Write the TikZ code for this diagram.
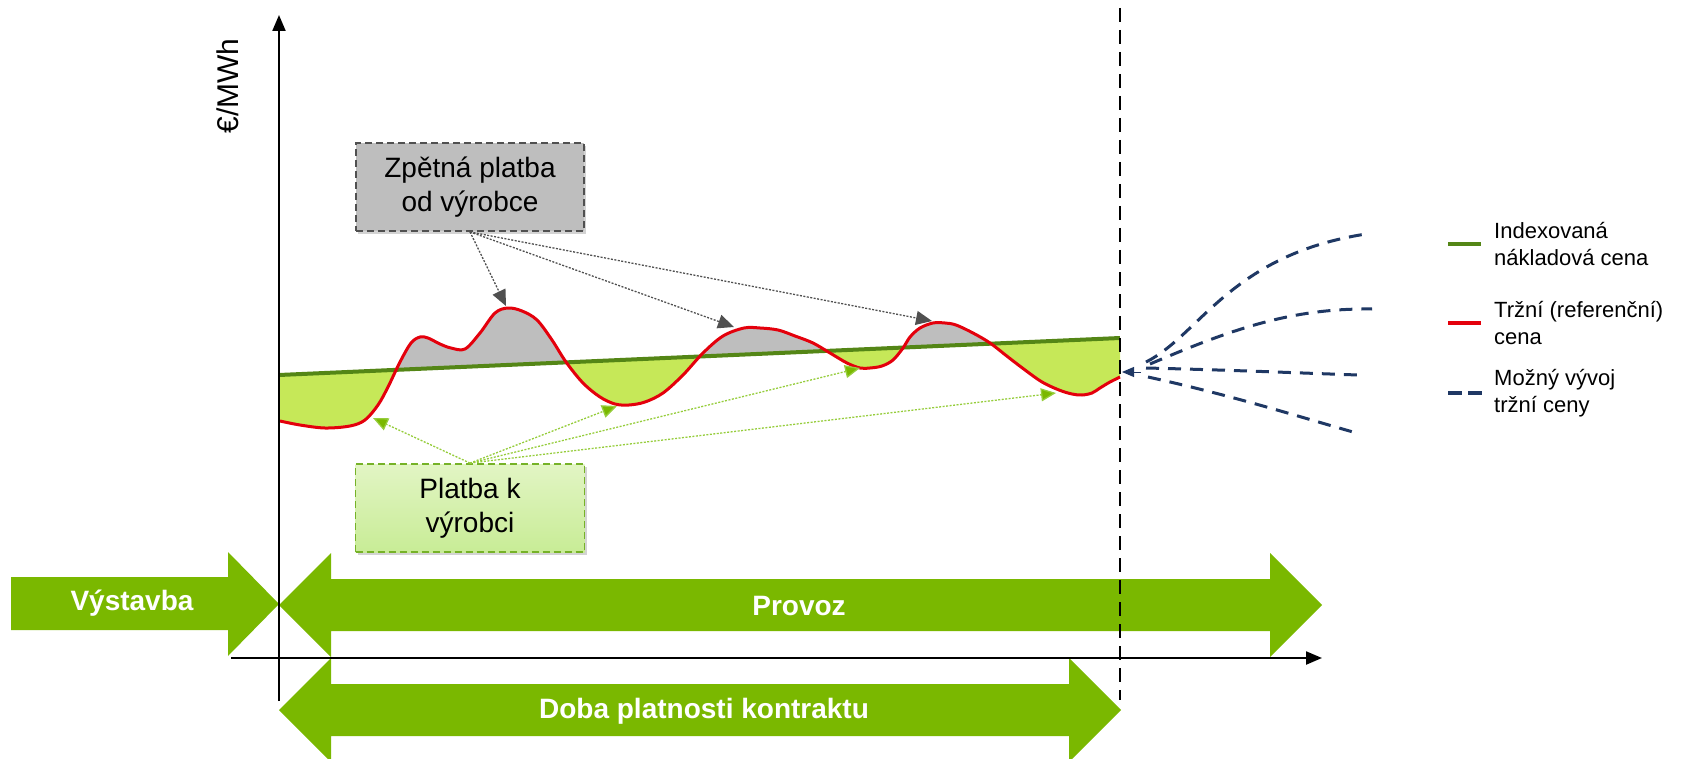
\documentclass[tikz,border=0pt]{standalone}
\usepackage{fontspec}
\setmainfont{Liberation Sans}
\usetikzlibrary{arrows.meta,shadows}
\definecolor{arrgreen}{RGB}{122,184,0}
\definecolor{fillgreen}{RGB}{198,232,88}
\definecolor{linegreen}{RGB}{84,134,22}
\definecolor{redc}{RGB}{228,0,12}
\definecolor{navyc}{RGB}{31,56,100}
\definecolor{grayfill}{RGB}{190,190,190}
\definecolor{grayline}{RGB}{80,80,80}
\definecolor{boxgreenT}{RGB}{226,245,196}
\definecolor{boxgreenB}{RGB}{200,236,150}
\definecolor{boxgreenD}{RGB}{118,178,40}
\definecolor{conngreen}{RGB}{150,205,60}
\begin{document}
\begin{tikzpicture}[x=1pt,y=-1pt,
  bigarrow/.style={fill=arrgreen, draw=none},
  arrtext/.style={text=white, font=\fontsize{28}{34}\selectfont\bfseries, inner sep=0pt},
  axisline/.style={black, line width=2.2pt, -{Triangle[length=16pt,width=13pt]}},
  graybox/.style={draw=grayline, fill=grayfill, dash pattern=on 7pt off 4pt, line width=1.8pt,
     minimum width=228pt, minimum height=88pt, inner sep=0pt, align=center,
     font=\fontsize{28}{34}\selectfont, drop shadow={opacity=0.35, shadow xshift=2pt, shadow yshift=-3pt}},
  greenbox/.style={draw=boxgreenD, top color=boxgreenT, bottom color=boxgreenB, dash pattern=on 7pt off 4pt, line width=1.8pt,
     minimum width=229pt, minimum height=88pt, inner sep=0pt, align=center,
     font=\fontsize{28}{34}\selectfont, drop shadow={opacity=0.35, shadow xshift=2pt, shadow yshift=-3pt}},
  grayconn/.style={draw=grayline, line width=1.3pt, dash pattern=on 2pt off 1.5pt,
     -{Triangle[length=16pt,width=14pt,fill=grayline]}},
  greenconn/.style={draw=conngreen, line width=1.3pt, dash pattern=on 2pt off 1.5pt,
     -{Triangle[length=15pt,width=13pt,fill=arrgreen]}},
  legtext/.style={anchor=west, align=left, inner sep=0pt, font=\fontsize{22}{27}\selectfont},
  fanline/.style={navyc, line width=3pt, dash pattern=on 13pt off 9pt},
]
\useasboundingbox (0,0) rectangle (1696,759);

% ---- area fills between market price and indexed cost ----
\begin{scope}
\clip (279,0) -- (1121,0) -- (1121,338) -- (279,375) -- cycle;
\fill[grayfill] plot[smooth, tension=0.55] coordinates {(280,421) (300,425) (325,428) (350,426) (365,420) (378,405) (388,387) (400,362) (411,343) (420,337) (428,338) (440,344) (451,348) (465,349) (480,333) (495,313) (508,308) (522,311) (537,320) (552,340) (566,362) (583,383) (600,397) (615,404) (629,405) (645,402) (663,393) (683,375) (703,353) (723,336) (744,328) (760,328) (778,330) (795,336) (813,343) (830,353) (847,363) (860,368) (870,368) (882,366) (893,360) (903,348) (910,337) (920,328) (933,323) (945,323) (956,325) (973,333) (990,343) (1008,357) (1025,370) (1042,382) (1059,390) (1072,394) (1082,395) (1092,393) (1100,388) (1110,382) (1120,377)} -- (1120,338) -- (279,375) -- cycle;
\end{scope}
\begin{scope}
\clip (279,375) -- (1121,338) -- (1121,759) -- (279,759) -- cycle;
\fill[fillgreen] plot[smooth, tension=0.55] coordinates {(280,421) (300,425) (325,428) (350,426) (365,420) (378,405) (388,387) (400,362) (411,343) (420,337) (428,338) (440,344) (451,348) (465,349) (480,333) (495,313) (508,308) (522,311) (537,320) (552,340) (566,362) (583,383) (600,397) (615,404) (629,405) (645,402) (663,393) (683,375) (703,353) (723,336) (744,328) (760,328) (778,330) (795,336) (813,343) (830,353) (847,363) (860,368) (870,368) (882,366) (893,360) (903,348) (910,337) (920,328) (933,323) (945,323) (956,325) (973,333) (990,343) (1008,357) (1025,370) (1042,382) (1059,390) (1072,394) (1082,395) (1092,393) (1100,388) (1110,382) (1120,377)} -- (1120,338) -- (279,375) -- cycle;
\end{scope}

% ---- indexed cost line and market price curve ----
\draw[linegreen, line width=4pt] (279,375) -- (1120,338);
\draw[redc, line width=3pt, line join=round] plot[smooth, tension=0.55] coordinates {(280,421) (300,425) (325,428) (350,426) (365,420) (378,405) (388,387) (400,362) (411,343) (420,337) (428,338) (440,344) (451,348) (465,349) (480,333) (495,313) (508,308) (522,311) (537,320) (552,340) (566,362) (583,383) (600,397) (615,404) (629,405) (645,402) (663,393) (683,375) (703,353) (723,336) (744,328) (760,328) (778,330) (795,336) (813,343) (830,353) (847,363) (860,368) (870,368) (882,366) (893,360) (903,348) (910,337) (920,328) (933,323) (945,323) (956,325) (973,333) (990,343) (1008,357) (1025,370) (1042,382) (1059,390) (1072,394) (1082,395) (1092,393) (1100,388) (1110,382) (1120,377)};

% ---- big phase arrows ----
\fill[bigarrow] (11,577) -- (228,577) -- (228,552) -- (279,604) -- (228,656) -- (228,630) -- (11,630) -- cycle;
\fill[bigarrow] (279,605) -- (331,553) -- (331,579) -- (1270,579) -- (1270,553) -- (1322,605) -- (1270,657) -- (1270,631) -- (331,631) -- (331,657) -- cycle;
\fill[bigarrow] (279,710) -- (331,658) -- (331,684) -- (1069,684) -- (1069,658) -- (1121,710) -- (1069,762) -- (1069,736) -- (331,736) -- (331,762) -- cycle;
\node[arrtext] (vystavba) at (132,603) {Výstavba};
\node[arrtext] (provoz) at (799,606) {Provoz};
\node[arrtext] (doba) at (704,711) {Doba platnosti kontraktu};

% ---- axes ----
\coordinate (yb) at (279,701);
\coordinate (yt) at (279,15);
\coordinate (xl) at (231,658);
\coordinate (xr) at (1322,658);
\draw[axisline] (yb) -- (yt);
\draw[axisline] (xl) -- (xr);
\node[rotate=90, inner sep=0pt, font=\fontsize{30}{36}\selectfont] (ylab) at (228,86) {€/MWh};
\coordinate (dtop) at (1120,8);
\coordinate (dbot) at (1120,700);
\draw[black, line width=2pt, dash pattern=on 14pt off 8pt] (dtop) -- (dbot);

% ---- annotation boxes and connectors ----
\node[graybox] (zpet) at (470,187) {Zpětná platba\\od výrobce};
\node[greenbox] (plat) at (470,508) {Platba k\\výrobci};
\coordinate (g1) at (506,306);
\coordinate (g2) at (734,327);
\coordinate (g3) at (932,321);
\draw[grayconn] (zpet.south) -- (g1);
\draw[grayconn] (zpet.south) -- (g2);
\draw[grayconn] (zpet.south) -- (g3);
\coordinate (p1) at (373,418);
\coordinate (p2) at (617,406);
\coordinate (p3) at (860,368);
\coordinate (p4) at (1056,393);
\draw[greenconn] (plat.north) -- (p1);
\draw[greenconn] (plat.north) -- (p2);
\draw[greenconn] (plat.north) -- (p3);
\draw[greenconn] (plat.north) -- (p4);

% ---- possible future market price ----
\coordinate (fo) at (1141,372);
\coordinate (ftip) at (1122,372);
\draw[navyc, line width=1pt, -{Triangle[length=12pt,width=10pt]}] (fo) -- (ftip);
\coordinate (f1) at (1366,234);
\coordinate (f2) at (1372,309);
\coordinate (f3) at (1358,375);
\coordinate (f4) at (1353,432);
\draw[fanline] (1146,362) .. controls (1200,335) and (1230,255) .. (f1);
\draw[fanline] (1150,364) .. controls (1230,330) and (1290,308) .. (f2);
\draw[fanline] (1146,368) .. controls (1230,370) and (1300,373) .. (f3);
\draw[fanline] (1148,377) .. controls (1230,395) and (1290,414) .. (f4);

% ---- legend ----
\coordinate (l1a) at (1448,244); \coordinate (l1b) at (1481,244);
\coordinate (l2a) at (1448,323); \coordinate (l2b) at (1481,323);
\coordinate (l3a) at (1448,393); \coordinate (l3b) at (1483,393);
\draw[linegreen, line width=4pt] (l1a) -- (l1b);
\draw[redc, line width=4pt] (l2a) -- (l2b);
\draw[navyc, line width=4pt, dash pattern=on 14pt off 6pt] (l3a) -- (l3b);
\node[legtext] (leg1) at (1494,244) {Indexovaná\\nákladová cena};
\node[legtext] (leg2) at (1494,323) {Tržní (referenční)\\cena};
\node[legtext] (leg3) at (1494,393) {Možný vývoj\\tržní ceny};
\end{tikzpicture}
\end{document}
